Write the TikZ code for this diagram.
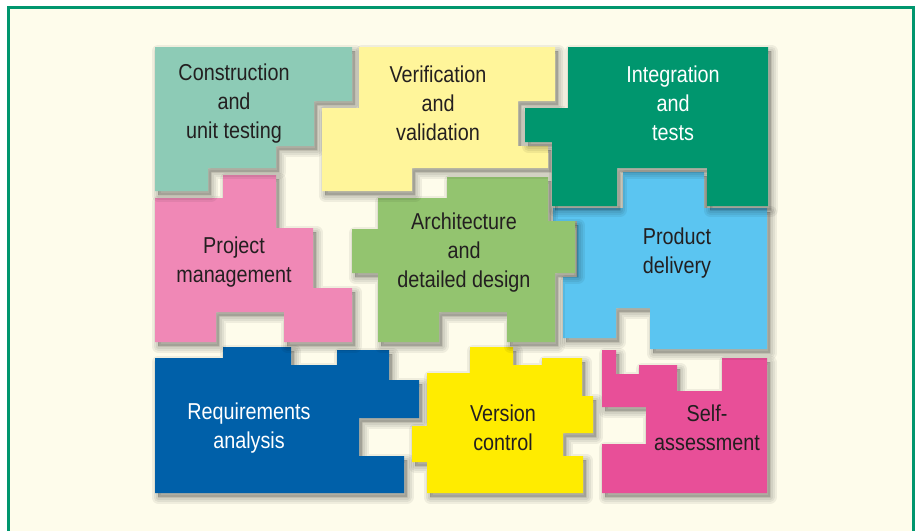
\documentclass[tikz,border=0pt]{standalone}
\usepackage{fontspec}
\setmainfont{Liberation Sans}[FakeStretch=0.86]
\definecolor{cream}{RGB}{254,252,235}
\definecolor{framegreen}{RGB}{0,150,110}
\definecolor{teal}{RGB}{141,203,182}
\definecolor{paleyellow}{RGB}{255,245,154}
\definecolor{darkgreen}{RGB}{0,150,110}
\definecolor{rosepink}{RGB}{240,136,182}
\definecolor{leafgreen}{RGB}{147,196,111}
\definecolor{skyblue}{RGB}{91,197,241}
\definecolor{deepblue}{RGB}{0,96,169}
\definecolor{brightyellow}{RGB}{255,236,0}
\definecolor{hotpink}{RGB}{232,79,152}
\definecolor{inkgray}{RGB}{35,31,32}
\begin{document}
\begin{tikzpicture}[x=1pt,y=-1pt,
  piecetext/.style={align=center,text=inkgray,font=\fontsize{23}{29}\selectfont},
  soft/.style={black,opacity=0.06,line join=round,shift={(3pt,-4pt)}}]
\def\shadowed#1{\foreach \w in {1,5,9,13}{\filldraw[soft,line width=\w pt] #1;}}
% puzzle pieces, one outline each
\def\reqpiece{(155,358) -- (223,358) -- (223,347) -- (291,347) -- (291,365) -- (337,365) -- (337,350) -- (389,350) -- (389,380) -- (419,380) -- (419,418) -- (359,418) -- (359,456) -- (404,456) -- (404,493) -- (155,493) -- cycle}
\def\verpiece{(470,347) -- (513,347) -- (513,365) -- (542,365) -- (542,358) -- (582,358) -- (582,396) -- (593,396) -- (593,433) -- (563,433) -- (563,456) -- (583,456) -- (583,493) -- (427,493) -- (427,462) -- (412,462) -- (412,426) -- (427,426) -- (427,373) -- (470,373) -- cycle}
\def\selfpiece{(602,350) -- (616,350) -- (616,374) -- (639,374) -- (639,365) -- (677,365) -- (677,391) -- (722,391) -- (722,358) -- (767,358) -- (767,493) -- (602,493) -- (602,444) -- (646,444) -- (646,407) -- (602,407) -- cycle}
\def\prodpiece{(553,208) -- (623,208) -- (623,172) -- (704,172) -- (704,208) -- (767,208) -- (767,349) -- (650,349) -- (650,308) -- (616,308) -- (616,338) -- (563,338) -- (563,277) -- (577,277) -- (577,221) -- (553,221) -- cycle}
\def\projpiece{(155,198) -- (223,198) -- (223,175) -- (276,175) -- (276,228) -- (313,228) -- (313,288) -- (352,288) -- (352,342) -- (284,342) -- (284,312) -- (216,312) -- (216,342) -- (155,342) -- cycle}
\def\archpiece{(447,177) -- (548,177) -- (548,221) -- (575,221) -- (575,273) -- (555,273) -- (555,342) -- (507,342) -- (507,312) -- (439,312) -- (439,342) -- (378,342) -- (378,273) -- (352,273) -- (352,229) -- (378,229) -- (378,198) -- (447,198) -- cycle}
\def\conspiece{(155,47) -- (352,47) -- (352,101) -- (314,101) -- (314,146) -- (276,146) -- (276,168) -- (208,168) -- (208,191) -- (155,191) -- cycle}
\def\verifpiece{(359,47) -- (555,47) -- (555,101) -- (518,101) -- (518,146) -- (548,146) -- (548,168) -- (412,168) -- (412,191) -- (322,191) -- (322,108) -- (359,108) -- cycle}
\def\intpiece{(568,47) -- (768,47) -- (768,206) -- (707,206) -- (707,168) -- (617,168) -- (617,206) -- (552,206) -- (552,142) -- (525,142) -- (525,108) -- (568,108) -- cycle}

\useasboundingbox (0,0) rectangle (917,530);
\fill[white] (0,0) rectangle (917,530);
\begin{scope}
  \clip (0,0) rectangle (917,530);
  \draw[framegreen,line width=2.7pt,fill=cream] (8.7,7.5) rectangle (913.7,560);
\end{scope}

% bottom row
\shadowed\reqpiece  \fill[deepblue] \reqpiece;
\shadowed\verpiece  \fill[brightyellow] \verpiece;
\shadowed\selfpiece \fill[hotpink] \selfpiece;
% middle row
\shadowed\prodpiece \fill[skyblue] \prodpiece;
\shadowed\projpiece \fill[rosepink] \projpiece;
\shadowed\archpiece \fill[leafgreen] \archpiece;
% top row
\shadowed\conspiece  \fill[teal] \conspiece;
\shadowed\verifpiece \fill[paleyellow] \verifpiece;
\shadowed\intpiece   \fill[darkgreen] \intpiece;

\node[piecetext] (cons) at (234,103.5) {Construction\\and\\unit testing};
\node[piecetext] (verif) at (438,103) {Verification\\and\\validation};
\node[piecetext,text=white] (integ) at (673,103) {Integration\\and\\tests};
\node[piecetext] (proj) at (234,262) {Project\\management};
\node[piecetext] (arch) at (464,252.5) {Architecture\\and\\detailed design};
\node[piecetext] (prod) at (677,253) {Product\\delivery};
\node[piecetext,text=white] (req) at (249,428) {Requirements\\analysis};
\node[piecetext] (vers) at (503,428) {Version\\control};
\node[piecetext] (self) at (707,428) {Self-\\assessment};
\end{tikzpicture}
\end{document}
